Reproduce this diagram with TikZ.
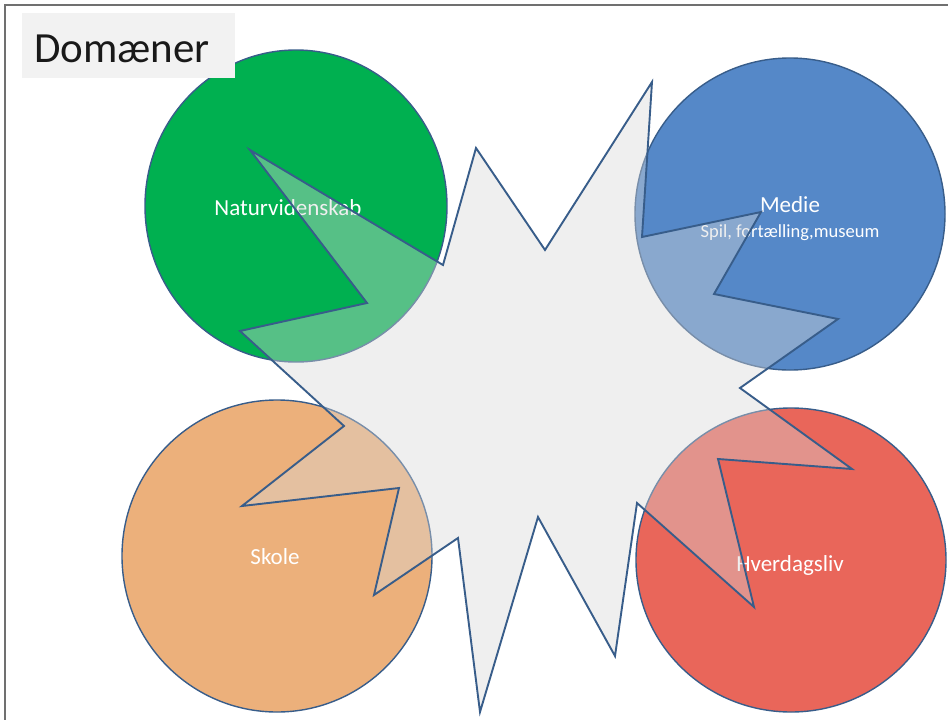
\documentclass[tikz,border=0pt]{standalone}
\usepackage{fontspec}
\setmainfont{Carlito}
\usetikzlibrary{shapes.geometric}

\definecolor{edgeblue}{HTML}{385D8A}
\definecolor{natgreen}{HTML}{00B050}
\definecolor{mediablue}{HTML}{5588C8}
\definecolor{schoolorange}{HTML}{ECB07B}
\definecolor{dailyred}{HTML}{E9665A}
\definecolor{burstgray}{HTML}{D8D8D8}
\definecolor{titlegray}{HTML}{F2F2F2}
\definecolor{framegray}{HTML}{707070}

\tikzset{
  domdisc/.style={ellipse, draw=edgeblue, line width=1.4pt, inner sep=0pt},
  domlabel/.style={text=white, anchor=base, inner sep=0pt,
    font=\fontsize{23}{27}\selectfont},
  sublabel/.style={text=white, anchor=base, inner sep=0pt,
    font=\fontsize{18.5}{22}\selectfont},
  burst/.style={draw=edgeblue, line width=1.9pt, line join=miter,
    fill=burstgray, fill opacity=0.4},
}

\begin{document}
\begin{tikzpicture}[x=1pt, y=-1pt]
  \useasboundingbox (0,0) rectangle (948,720);
  \fill[white] (0,0) rectangle (948,720);

  % slide frame
  \draw[framegray, line width=1.4pt] (5,720) -- (5,5) -- (948,5);

  % the four domains
  \node[domdisc, fill=natgreen, minimum width=302pt, minimum height=312pt]
    (nat) at (296,206) {};
  \node[domdisc, fill=mediablue, minimum width=310pt, minimum height=312pt]
    (med) at (790,214) {};
  \node[domdisc, fill=schoolorange, minimum width=310pt, minimum height=312pt]
    (sko) at (277,556) {};
  \node[domdisc, fill=dailyred, minimum width=310pt, minimum height=304pt]
    (hve) at (791,560) {};

  \node[domlabel] (natlab) at (288,215) {Naturvidenskab};
  \node[domlabel] (medlab) at (790,212) {Medie};
  \node[sublabel] (medsub) at (790,237) {Spil, fortælling,museum};
  \node[domlabel] (skolab) at (275,564) {Skole};
  \node[domlabel] (hvelab) at (790,571) {Hverdagsliv};

  % central explosion shape
  \draw[burst]
    (652,82) -- (545,250) -- (476,148) -- (443,265) -- (250,150)
    -- (367,303) -- (240,331) -- (344,426) -- (242,506) -- (399,488)
    -- (374,595) -- (458,538) -- (480,712) -- (538,517) -- (615,656)
    -- (637,503) -- (754,607) -- (718,459) -- (852,469) -- (740,388)
    -- (838,319) -- (714,294) -- (761,212) -- (642,237) -- cycle;

  % title
  \fill[titlegray] (22,13) rectangle (235,78);
  \node[anchor=base west, inner sep=0pt, font=\fontsize{43}{50}\selectfont,
    text=black!90] (title) at (34,62) {Domæner};
\end{tikzpicture}
\end{document}
